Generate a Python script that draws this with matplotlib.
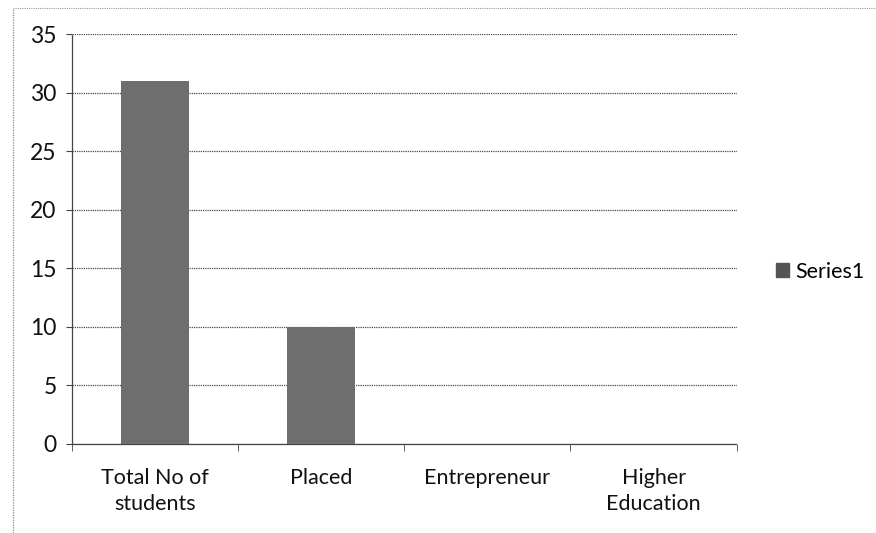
import matplotlib
matplotlib.use('Agg')
import matplotlib.pyplot as plt
from matplotlib.patches import Patch
from matplotlib.lines import Line2D
import numpy as np

categories = ["Total No of\nstudents", "Placed", "Entrepreneur", "Higher\nEducation"]
series1 = [31, 10, 0, 0]
y_ticks = [0, 5, 10, 15, 20, 25, 30, 35]

plt.rcParams['font.family'] = ['Lato', 'DejaVu Sans']

fig = plt.figure(figsize=(8.76, 5.33), dpi=100)
ax = fig.add_axes([0.082, 0.167, 0.759, 0.769])

x = np.arange(len(categories))
bar_color = '#6e6e6e'
ax.bar(x, series1, width=0.41, color=bar_color, zorder=3)

ax.set_xlim(-0.5, len(categories) - 0.5)
ax.set_ylim(0, 35)
ax.set_yticks(y_ticks)
ax.set_yticklabels([str(v) for v in y_ticks], fontsize=16.5, color='#111111')

ax.set_xticks(x)
ax.set_xticklabels(categories, fontsize=15.5, color='#111111', linespacing=1.4)
ax.set_xticks(np.arange(-0.5, len(categories)), minor=True)
ax.tick_params(axis='x', which='major', length=0, pad=17)
ax.tick_params(axis='x', which='minor', length=5, direction='out', color='#444444')
ax.tick_params(axis='y', length=4, direction='out', color='#444444', pad=7)

# dotted gridlines like the scanned print
ax.yaxis.grid(True, linestyle=(0, (1, 0.8)), color='#4a4a4a', linewidth=0.9, zorder=0)
ax.set_axisbelow(True)

for side in ['top', 'right']:
    ax.spines[side].set_visible(False)
for side in ['left', 'bottom']:
    ax.spines[side].set_linestyle((0, (1, 1)))
    ax.spines[side].set_color('#444444')
    ax.spines[side].set_linewidth(0.9)

ax.legend(handles=[Patch(color='#555555', label='Series1')],
          loc='center left', bbox_to_anchor=(1.03, 0.42), frameon=False,
          fontsize=15.5, handlelength=0.6, handleheight=0.6, handletextpad=0.3)

# chart area border (top and left edges)
fig.add_artist(Line2D([0.015, 0.015], [0.0, 0.985], transform=fig.transFigure,
                      color='#888888', linestyle=(0, (1, 1)), linewidth=0.9))
fig.add_artist(Line2D([0.015, 1.0], [0.985, 0.985], transform=fig.transFigure,
                      color='#999999', linestyle=(0, (1, 1)), linewidth=0.8))

fig.savefig('out.png', dpi=100, facecolor='white')
